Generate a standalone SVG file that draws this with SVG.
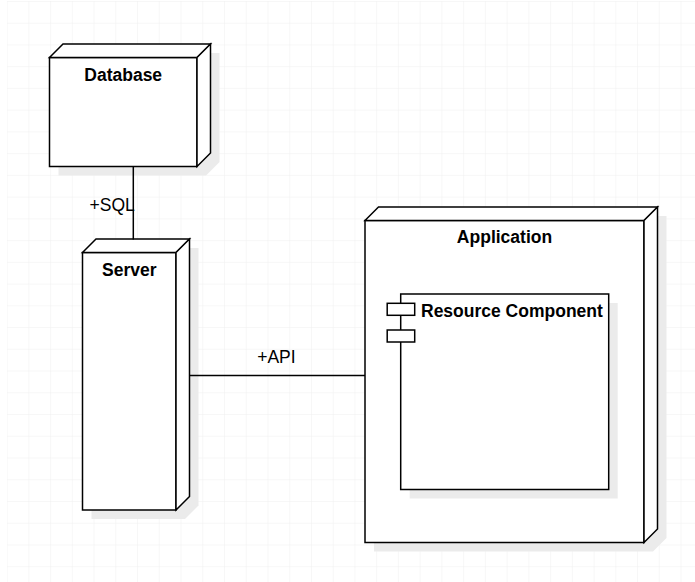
<svg xmlns="http://www.w3.org/2000/svg" width="695" height="582" viewBox="0 0 695 582">
  <defs>
    <pattern id="grid" x="6.6" y="0.96" width="21.74" height="21.74" patternUnits="userSpaceOnUse">
      <path d="M 21.74 0 L 0 0 0 21.74" fill="none" stroke="#f0f0f0" stroke-width="1"/>
    </pattern>
  </defs>
  <style>
    .edge { fill: #ffffff; stroke: #000000; stroke-width: 1.5; stroke-linejoin: miter; }
    .shadow { fill: #ebebeb; stroke: none; }
    .link { fill: none; stroke: #000000; stroke-width: 1.5; }
    .title { font-family: "Liberation Sans", Arial, sans-serif; font-size: 17.5px; font-weight: bold; fill: #000000; }
    .label { font-family: "Liberation Sans", Arial, sans-serif; font-size: 17.5px; fill: #000000; }
  </style>

  <!-- background grid -->
  <rect width="695" height="582" fill="#ffffff"/>
  <rect x="7" y="1" width="688" height="581" fill="url(#grid)"/>

  <!-- Database node -->
  <g id="database">
    <path class="shadow" transform="translate(9,9)" d="M49.5 57.5 L63 44 L210.5 44 L210.5 153 L197 166.5 L49.5 166.5 Z"/>
    <rect class="edge" x="49.5" y="57.5" width="147.5" height="109"/>
    <path class="edge" d="M49.5 57.5 L63 44 L210.5 44 L197 57.5 Z"/>
    <path class="edge" d="M197 57.5 L210.5 44 L210.5 153 L197 166.5 Z"/>
    <text class="title" x="123.2" y="80.7" text-anchor="middle">Database</text>
  </g>

  <!-- Server node -->
  <g id="server">
    <path class="shadow" transform="translate(9,9)" d="M82.5 252.5 L96 239 L189.5 239 L189.5 496.5 L176 510 L82.5 510 Z"/>
    <rect class="edge" x="82.5" y="252.5" width="93.5" height="257.5"/>
    <path class="edge" d="M82.5 252.5 L96 239 L189.5 239 L176 252.5 Z"/>
    <path class="edge" d="M176 252.5 L189.5 239 L189.5 496.5 L176 510 Z"/>
    <text class="title" x="129.3" y="275.7" text-anchor="middle">Server</text>
  </g>

  <!-- Application node -->
  <g id="application">
    <path class="shadow" transform="translate(9,9)" d="M365 220.5 L378.5 207 L657.5 207 L657.5 529 L644 542.5 L365 542.5 Z"/>
    <rect class="edge" x="365" y="220.5" width="279" height="322"/>
    <path class="edge" d="M365 220.5 L378.5 207 L657.5 207 L644 220.5 Z"/>
    <path class="edge" d="M644 220.5 L657.5 207 L657.5 529 L644 542.5 Z"/>
    <text class="title" x="504.5" y="243.3" text-anchor="middle">Application</text>
  </g>

  <!-- Resource Component -->
  <g id="resource-component">
    <rect class="shadow" x="409.7" y="303" width="208" height="195.5"/>
    <rect class="edge" x="400.7" y="294" width="208" height="195.5"/>
    <rect class="edge" x="387.2" y="303.3" width="27.5" height="12"/>
    <rect class="edge" x="387.2" y="330" width="27.5" height="12"/>
    <text class="title" x="421" y="316.7">Resource Component</text>
  </g>

  <!-- connectors -->
  <g id="connectors">
    <line class="link" x1="133.3" y1="166.5" x2="133.3" y2="239.5"/>
    <text class="label" x="89.5" y="210.7">+SQL</text>
    <line class="link" x1="190" y1="375.5" x2="365" y2="375.5"/>
    <text class="label" x="257.2" y="363.3">+API</text>
  </g>
</svg>
